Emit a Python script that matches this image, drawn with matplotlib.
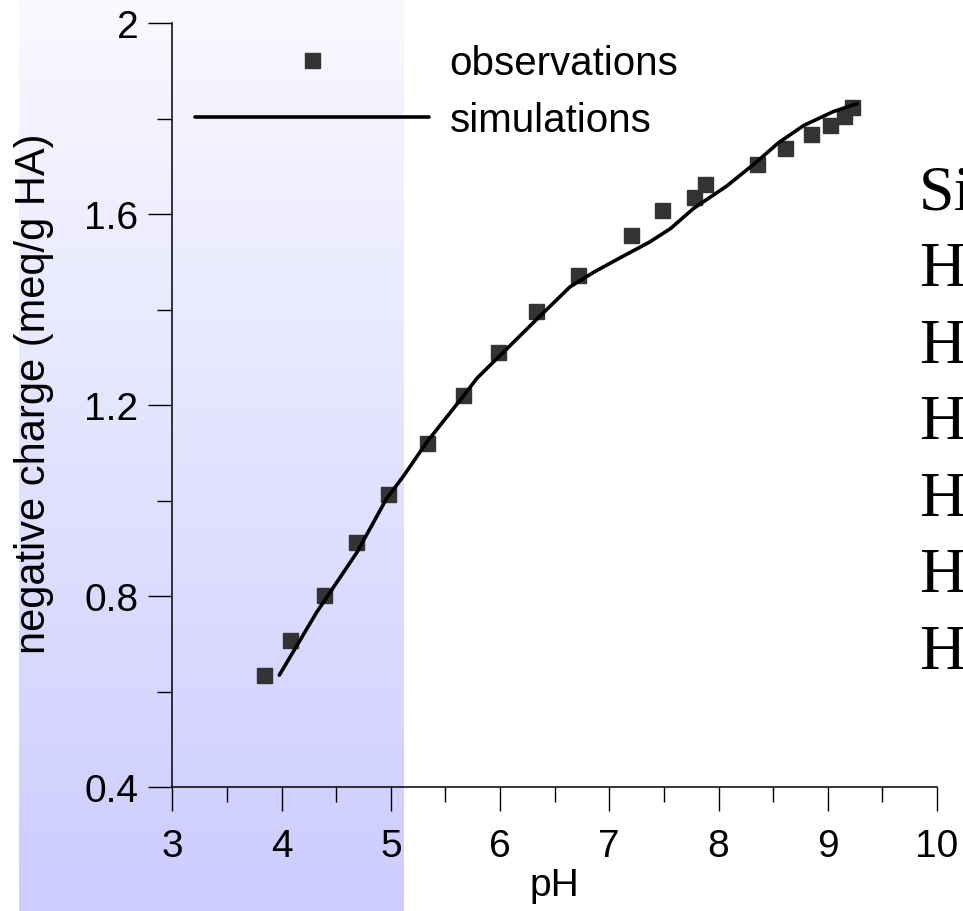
import matplotlib
matplotlib.use("Agg")
import matplotlib.pyplot as plt
from matplotlib.colors import LinearSegmentedColormap
from matplotlib.ticker import MultipleLocator
import numpy as np

# observed negative charge vs pH
obs_ph = [3.84, 4.08, 4.39, 4.68, 4.97, 5.33, 5.66, 5.98, 6.33, 6.71,
          7.20, 7.48, 7.78, 7.88, 8.35, 8.61, 8.85, 9.02, 9.15, 9.22]
obs_charge = [0.635, 0.709, 0.803, 0.913, 1.015, 1.122, 1.222, 1.312, 1.397, 1.472,
              1.556, 1.609, 1.636, 1.663, 1.705, 1.739, 1.768, 1.787, 1.806, 1.825]

# simulated curve
sim_ph = [3.98, 4.32, 4.69, 4.96, 5.12, 5.33, 5.67, 5.79, 6.03, 6.34, 6.64,
          6.86, 7.10, 7.37, 7.56, 7.77, 8.08, 8.35, 8.55, 8.78, 9.05, 9.27]
sim_charge = [0.635, 0.766, 0.892, 1.004, 1.053, 1.123, 1.221, 1.257, 1.311, 1.381, 1.448,
              1.479, 1.509, 1.542, 1.570, 1.612, 1.660, 1.710, 1.750, 1.786, 1.815, 1.832]

side_lines = ["Si", "H", "H", "H", "H", "H", "H"]

W, H = 963, 912
plt.rcParams['font.family'] = ['Liberation Sans', 'DejaVu Sans']

fig = plt.figure(figsize=(W / 100, H / 100), dpi=100)
fig.patch.set_facecolor('white')

# gradient band behind the plot
bg = fig.add_axes([19 / W, 0, 384 / W, 1], zorder=0)
cmap = LinearSegmentedColormap.from_list('band', ['#f9f9ff', '#ccccff'])
bg.imshow(np.linspace(0, 1, 256).reshape(-1, 1), aspect='auto', cmap=cmap,
          extent=[0, 1, 0, 1], origin='upper')
bg.axis('off')

ax = fig.add_axes([172.3 / W, (H - 788.3) / H, 764.7 / W, 764 / H], zorder=1)
ax.set_facecolor('none')

ax.plot(obs_ph, obs_charge, linestyle='none', marker='s', markersize=10.8,
        color='#333333', label='observations', clip_on=False)
ax.plot(sim_ph, sim_charge, color='black', linewidth=2.6,
        solid_capstyle='round', solid_joinstyle='round', label='simulations')

ax.set_xlim(3, 10)
ax.set_ylim(0.4, 2)
ax.xaxis.set_major_locator(MultipleLocator(1))
ax.xaxis.set_minor_locator(MultipleLocator(0.5))
ax.yaxis.set_major_locator(MultipleLocator(0.4))
ax.yaxis.set_minor_locator(MultipleLocator(0.2))
ax.yaxis.set_major_formatter(plt.FuncFormatter(lambda v, p: f"{v:g}"))

for s in ['top', 'right']:
    ax.spines[s].set_visible(False)
for s in ['left', 'bottom']:
    ax.spines[s].set_linewidth(1.1)

ax.tick_params(axis='both', which='major', direction='out', length=17.3, width=1.0,
               labelsize=28, color='black')
ax.tick_params(axis='both', which='minor', direction='out', length=10.8, width=1.0)
ax.tick_params(axis='x', which='major', pad=12)
ax.tick_params(axis='y', which='major', pad=7)

ax.set_xlabel('pH', fontsize=28, labelpad=2)
ax.set_ylabel('negative charge (meq/g HA)', fontsize=30)
ax.yaxis.set_label_coords(-0.155, 0.516)

leg = ax.legend(loc='upper left', bbox_to_anchor=(0.0297, 0.973), frameon=False,
                fontsize=29, handlelength=5.8, handletextpad=0.52,
                labelspacing=0.47, borderpad=0, borderaxespad=0, numpoints=1)

# text running off the right edge
for i, t in enumerate(side_lines):
    fig.text(919 / W, 1 - (210 + i * 76.5) / H, t, fontsize=46,
             family='Liberation Serif', va='baseline', ha='left')

fig.savefig('out.png', dpi=100)
